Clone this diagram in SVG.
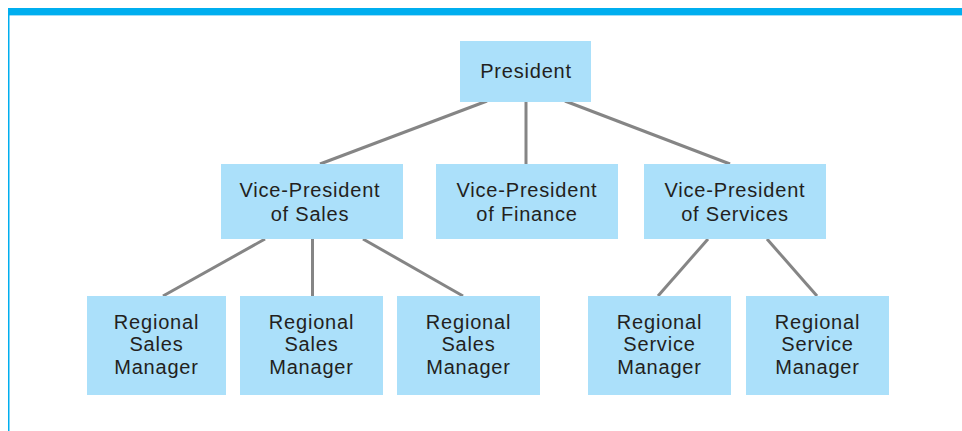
<svg xmlns="http://www.w3.org/2000/svg" width="962" height="431" viewBox="0 0 962 431">
<style>
.box{fill:#abe0fa}
.t{font-family:"Liberation Sans",Arial,sans-serif;font-size:20px;fill:#231f20;text-anchor:middle;letter-spacing:0.8px}
.c{stroke:#858585;stroke-width:3;fill:none}
</style>
<rect x="0" y="0" width="962" height="431" fill="#ffffff"/>
<g id="frame">
<rect x="8" y="8" width="954" height="7" fill="#00aeef"/>
<rect x="8" y="15" width="954" height="1" fill="#9fdcf6"/>
<rect x="8" y="15" width="1.5" height="416" fill="#00aeef"/>
</g>
<g id="connectors">
<line class="c" x1="487" y1="101" x2="320" y2="164"/>
<line class="c" x1="526" y1="101" x2="526" y2="164"/>
<line class="c" x1="565" y1="101" x2="730" y2="164"/>
<line class="c" x1="265" y1="239" x2="163" y2="296"/>
<line class="c" x1="312.5" y1="239" x2="312.5" y2="296"/>
<line class="c" x1="363" y1="239" x2="463" y2="296"/>
<line class="c" x1="708" y1="239" x2="658" y2="296"/>
<line class="c" x1="767" y1="239" x2="817" y2="296"/>
</g>
<g id="president">
<rect class="box" x="460" y="41" width="131" height="61"/>
<text class="t" x="526" y="78">President</text>
</g>
<g id="vp-sales">
<rect class="box" x="221" y="164" width="182" height="75"/>
<text class="t" x="310" y="197">Vice-President</text>
<text class="t" x="310" y="221">of Sales</text>
</g>
<g id="vp-finance">
<rect class="box" x="436" y="164" width="182" height="75"/>
<text class="t" x="527" y="197">Vice-President</text>
<text class="t" x="527" y="221">of Finance</text>
</g>
<g id="vp-services">
<rect class="box" x="644" y="164" width="182" height="75"/>
<text class="t" x="735" y="197">Vice-President</text>
<text class="t" x="735" y="221">of Services</text>
</g>
<g id="rsm1">
<rect class="box" x="87" y="296" width="139" height="99"/>
<text class="t" x="156.5" y="328.5">Regional</text>
<text class="t" x="156.5" y="351">Sales</text>
<text class="t" x="156.5" y="373.5">Manager</text>
</g>
<g id="rsm2">
<rect class="box" x="240" y="296" width="143" height="99"/>
<text class="t" x="311.5" y="328.5">Regional</text>
<text class="t" x="311.5" y="351">Sales</text>
<text class="t" x="311.5" y="373.5">Manager</text>
</g>
<g id="rsm3">
<rect class="box" x="397" y="296" width="143" height="99"/>
<text class="t" x="468.5" y="328.5">Regional</text>
<text class="t" x="468.5" y="351">Sales</text>
<text class="t" x="468.5" y="373.5">Manager</text>
</g>
<g id="rsvm1">
<rect class="box" x="588" y="296" width="143" height="99"/>
<text class="t" x="659.5" y="328.5">Regional</text>
<text class="t" x="659.5" y="351">Service</text>
<text class="t" x="659.5" y="373.5">Manager</text>
</g>
<g id="rsvm2">
<rect class="box" x="746" y="296" width="143" height="99"/>
<text class="t" x="817.5" y="328.5">Regional</text>
<text class="t" x="817.5" y="351">Service</text>
<text class="t" x="817.5" y="373.5">Manager</text>
</g>
</svg>
